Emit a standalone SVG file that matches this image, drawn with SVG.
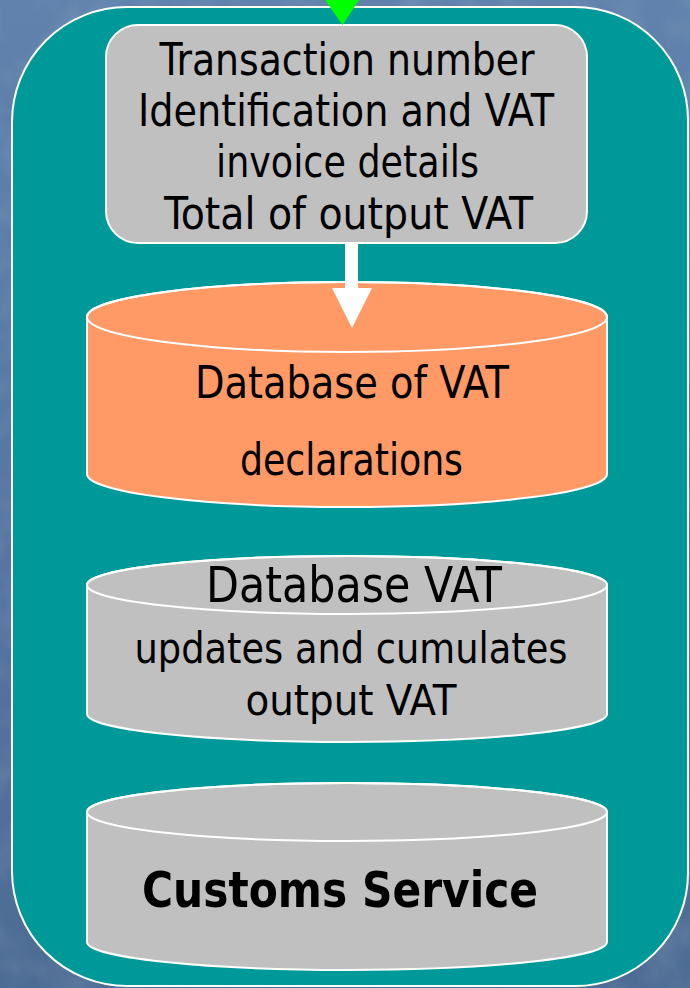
<svg xmlns="http://www.w3.org/2000/svg" width="690" height="988" viewBox="0 0 690 988">
  <defs>
    <linearGradient id="bg" x1="0" y1="0" x2="0" y2="1">
      <stop offset="0" stop-color="#6082AC"/>
      <stop offset="1" stop-color="#4D6C94"/>
    </linearGradient>
    <filter id="grain" x="0" y="0" width="100%" height="100%">
      <feTurbulence type="fractalNoise" baseFrequency="0.025" numOctaves="3" seed="4"/>
      <feColorMatrix type="matrix" values="0 0 0 0 1  0 0 0 0 1  0 0 0 0 1  0 0 0 0.55 -0.22"/>
    </filter>
    <style>
      .txt { font-family: "DejaVu Sans Condensed", "DejaVu Sans", sans-serif; font-stretch: condensed; fill: #000000; text-anchor: middle; }
      .edge { stroke: #FFFFFF; stroke-width: 2; }
      .gray { fill: #C0C0C0; }
      .orange { fill: #FF9966; }
    </style>
  </defs>

  <rect x="0" y="0" width="690" height="988" fill="url(#bg)"/>
  <rect x="0" y="0" width="690" height="988" filter="url(#grain)" opacity="0.35"/>

  <g id="container">
    <path class="edge" fill="#009999" d="M 127 7 L 575 7 A 113 113 0 0 1 688 120 L 688 873 A 113 113 0 0 1 575 986 L 127 986 A 115 115 0 0 1 12 871 L 12 122 A 115 115 0 0 1 127 7 Z"/>
  </g>

  <g id="transaction">
    <rect class="gray edge" x="106" y="25" width="481" height="218" rx="32" ry="32"/>
    <text class="txt" x="347" y="75" font-size="45" textLength="375" lengthAdjust="spacingAndGlyphs">Transaction number</text>
    <text class="txt" x="346" y="126" font-size="45" textLength="416" lengthAdjust="spacingAndGlyphs">Identification and VAT</text>
    <text class="txt" x="347.5" y="177" font-size="45" textLength="263" lengthAdjust="spacingAndGlyphs">invoice details</text>
    <text class="txt" x="348.5" y="229" font-size="45" textLength="369" lengthAdjust="spacingAndGlyphs">Total of output VAT</text>
  </g>

  <g id="db-declarations">
    <path class="orange edge" d="M 87 317 A 260 35 0 0 1 607 317 L 607 474 A 260 33 0 0 1 87 474 Z"/>
    <ellipse class="edge" fill="none" cx="347" cy="317" rx="260" ry="35"/>
    <text class="txt" x="352" y="398" font-size="44" textLength="314" lengthAdjust="spacingAndGlyphs">Database of VAT</text>
    <text class="txt" x="351.5" y="475" font-size="44" textLength="223" lengthAdjust="spacingAndGlyphs">declarations</text>
  </g>

  <g id="db-vat">
    <path class="gray edge" d="M 87 585 A 260 29 0 0 1 607 585 L 607 714 A 260 28 0 0 1 87 714 Z"/>
    <ellipse class="edge" fill="none" cx="347" cy="585" rx="260" ry="29"/>
    <text class="txt" x="354" y="602" font-size="50" textLength="296" lengthAdjust="spacingAndGlyphs">Database VAT</text>
    <text class="txt" x="351" y="663" font-size="42" textLength="433" lengthAdjust="spacingAndGlyphs">updates and cumulates</text>
    <text class="txt" x="351" y="715" font-size="42" textLength="211" lengthAdjust="spacingAndGlyphs">output VAT</text>
  </g>

  <g id="customs">
    <path class="gray edge" d="M 87 812 A 260 29 0 0 1 607 812 L 607 942 A 260 28 0 0 1 87 942 Z"/>
    <ellipse class="edge" fill="none" cx="347" cy="812" rx="260" ry="29"/>
    <text class="txt" x="340" y="907" font-size="50" font-weight="bold" textLength="396" lengthAdjust="spacingAndGlyphs">Customs Service</text>
  </g>

  <g id="connectors">
    <polygon points="325,0 359,0 342.5,25" fill="#00FF00"/>
    <rect x="345" y="243" width="13" height="47" fill="#FFFFFF"/>
    <polygon points="332,288 372,288 352,328" fill="#FFFFFF"/>
  </g>
</svg>
